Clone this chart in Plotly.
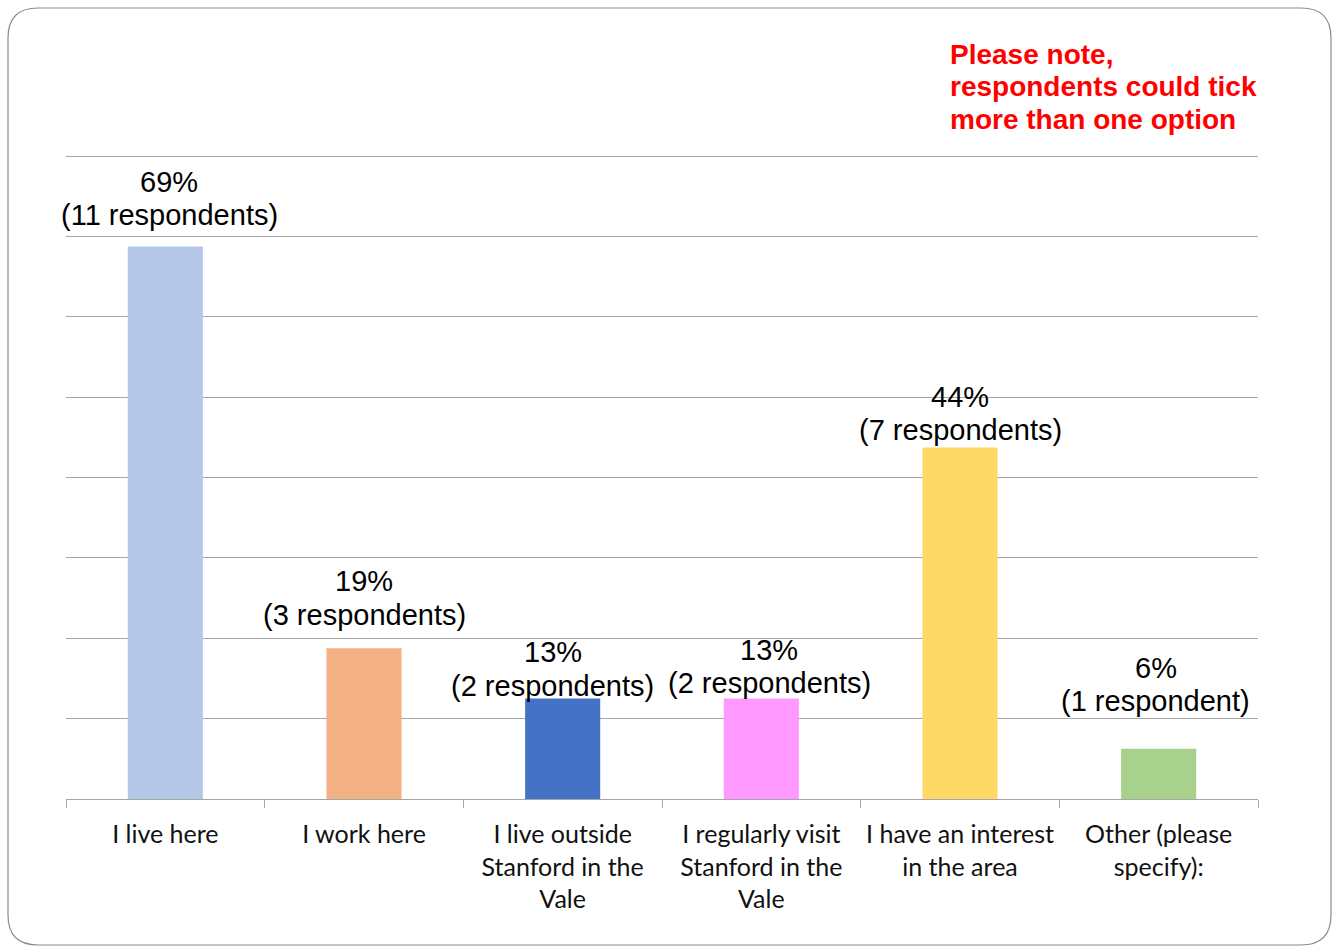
import plotly.graph_objects as go

# Survey question: connection to the area (respondents could tick more than one option)
categories = [
    "I live here",
    "I work here",
    "I live outside<br>Stanford in the<br>Vale",
    "I regularly visit<br>Stanford in the<br>Vale",
    "I have an interest<br>in the area",
    "Other (please<br>specify):",
]
respondents = [11, 3, 2, 2, 7, 1]
total_respondents = 16
shares = [n / total_respondents for n in respondents]
pct_labels = ["69%", "19%", "13%", "13%", "44%", "6%"]
count_labels = [
    "(11 respondents)",
    "(3 respondents)",
    "(2 respondents)",
    "(2 respondents)",
    "(7 respondents)",
    "(1 respondent)",
]
bar_colors = ["#b4c7e7", "#f4b183", "#4472c4", "#ff99ff", "#ffd966", "#a9d18e"]
note_lines = ["Please note,", "respondents could tick", "more than one option"]
grid_vals = [0.1, 0.2, 0.3, 0.4, 0.5, 0.6, 0.7, 0.8]

W, H = 1333, 947
Y_MAX = 0.81
L, R, B = 66, 1258, 799          # plot area edges in pixels
T = round(B - 643 * Y_MAX / 0.8)  # top edge keeps 0.8 at the top gridline

fig = go.Figure(
    go.Bar(
        x=categories,
        y=shares,
        marker=dict(color=bar_colors, line=dict(width=0)),
        hoverinfo="skip",
    )
)

# label offsets above each bar top (pixels): [percent line, respondents line]
label_dy = [(64, 31), (67, 33), (47, 13), (49, 16), (50, 17), (81, 48)]
label_dx = [4, 0, -10, 8, 0, -3]
label_font = dict(family="Liberation Sans, Arial, sans-serif", size=29, color="#000000")
for i, cat in enumerate(categories):
    for text, dy in zip((pct_labels[i], count_labels[i]), label_dy[i]):
        fig.add_annotation(
            x=cat, y=shares[i], xref="x", yref="y",
            text=text, showarrow=False, font=label_font,
            xanchor="center", yanchor="middle",
            xshift=label_dx[i], yshift=dy,
        )

def px_x(px):
    return (px - L) / (R - L)

def px_y(py):
    return (B - py) / (B - T)

# red note in the top-right corner
for k, line in enumerate(note_lines):
    fig.add_annotation(
        x=px_x(948), y=px_y(54 + 32.5 * k), xref="paper", yref="paper",
        text=line, showarrow=False, xanchor="left", yanchor="middle",
        font=dict(family="Liberation Sans, Arial, sans-serif", size=28, color="#ff0000", weight="bold"),
    )

# rounded frame around the whole chart
x0, y0, x1, y1, r = 8, 8, 1331, 945, 30
pts = [
    f"M {px_x(x0 + r)} {px_y(y0)}",
    f"L {px_x(x1 - r)} {px_y(y0)}",
    f"Q {px_x(x1)} {px_y(y0)} {px_x(x1)} {px_y(y0 + r)}",
    f"L {px_x(x1)} {px_y(y1 - r)}",
    f"Q {px_x(x1)} {px_y(y1)} {px_x(x1 - r)} {px_y(y1)}",
    f"L {px_x(x0 + r)} {px_y(y1)}",
    f"Q {px_x(x0)} {px_y(y1)} {px_x(x0)} {px_y(y1 - r)}",
    f"L {px_x(x0)} {px_y(y0 + r)}",
    f"Q {px_x(x0)} {px_y(y0)} {px_x(x0 + r)} {px_y(y0)}",
    "Z",
]
fig.add_shape(
    type="path", path=" ".join(pts), xref="paper", yref="paper",
    line=dict(color="#8c8c8c", width=1.2), layer="above",
)

fig.update_layout(
    width=W, height=H,
    margin=dict(l=L, r=W - R, t=T, b=H - B, autoexpand=False),
    paper_bgcolor="#ffffff", plot_bgcolor="#ffffff",
    bargap=0.622, showlegend=False,
    xaxis=dict(
        range=[-0.5, len(categories) - 0.5], autorange=False,
        showline=True, linecolor="#a6a6a6", linewidth=1.3,
        ticks="outside", tickson="boundaries", ticklen=8,
        tickcolor="#a6a6a6", tickwidth=1.3,
        showgrid=False,
        tickfont=dict(family="Lato, Calibri, sans-serif", size=25, color="#111111"),
        ticklabelstandoff=13,
    ),
    yaxis=dict(
        range=[0, Y_MAX], autorange=False, tickvals=grid_vals,
        showticklabels=False,
        showgrid=True, gridcolor="#a6a6a6", gridwidth=1.3,
        zeroline=False, showline=False,
    ),
)

fig.write_html("out.html")
